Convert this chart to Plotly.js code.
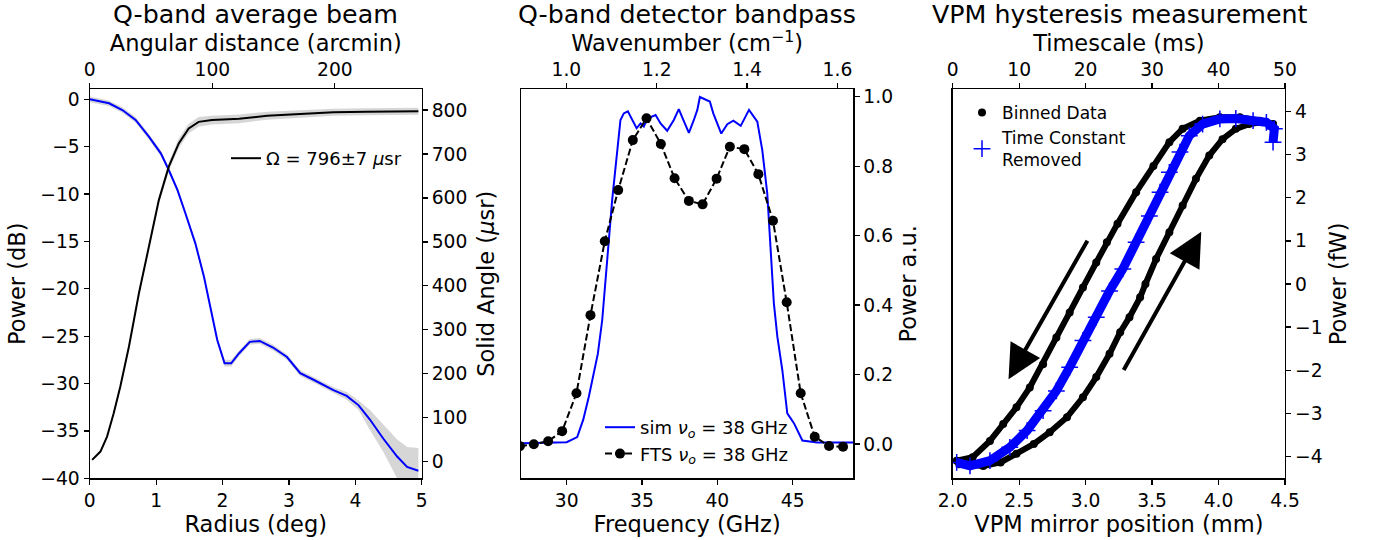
<!DOCTYPE html>
<html>
<head>
<meta charset="utf-8">
<script src="https://cdn.plot.ly/plotly-3.0.1.min.js"></script>
<style>html,body{margin:0;padding:0;background:#fff;}#chart{width:1377px;height:540px;}</style>
</head>
<body>
<div id="chart"></div>
<script>
// ---------- Panel 1: Q-band average beam ----------
const beamRadiusDeg = [0, 0.29, 0.49, 0.69, 0.89, 1.07, 1.19, 1.32, 1.44, 1.59, 1.72, 1.82, 1.92, 2.03, 2.13, 2.25, 2.41, 2.56, 2.76, 2.97, 3.17, 3.37, 3.67, 3.87, 4.05, 4.22, 4.42, 4.63, 4.78, 4.95];
const beamPowerDb = [0, -0.42, -1.13, -2.18, -3.95, -5.70, -7.46, -9.57, -12.03, -15.2, -18.72, -21.89, -25.4, -27.86, -27.86, -26.8, -25.6, -25.5, -26.2, -27.2, -28.9, -29.6, -30.7, -31.3, -32.3, -33.8, -35.8, -37.7, -38.8, -39.2];
const beamBandUpper = [0.3, -0.12, -0.83, -1.88, -3.65, -5.4, -7.16, -9.27, -11.73, -14.9, -18.42, -21.59, -25.1, -27.5, -27.5, -26.5, -25.3, -25.2, -25.9, -26.9, -28.6, -29.3, -30.4, -30.9, -31.8, -32.8, -34.3, -35.9, -36.7, -36.8];
const beamBandLower = [-0.3, -0.72, -1.43, -2.48, -4.25, -6.0, -7.76, -9.87, -12.33, -15.5, -19.02, -22.19, -25.7, -28.2, -28.2, -27.1, -25.9, -25.8, -26.5, -27.5, -29.2, -29.9, -31.0, -31.7, -32.8, -34.9, -37.2, -39.9, -42, -43];

const solidRadiusDeg = [0.035, 0.16, 0.26, 0.36, 0.46, 0.59, 0.74, 0.89, 1.04, 1.19, 1.34, 1.49, 1.64, 1.84, 2.25, 2.67, 3.17, 3.67, 4.17, 4.95];
const solidAngleUsr = [4, 23, 57, 110, 171, 262, 383, 489, 595, 671, 724, 758, 773, 777, 780, 787, 791, 795, 796, 797];
const solidBandUpper = [5, 25, 60, 114, 176, 268, 390, 497, 604, 681, 735, 769, 784, 787, 790, 796, 800, 803, 804, 805];
const solidBandLower = [3, 21, 54, 106, 166, 256, 376, 481, 586, 661, 713, 747, 762, 767, 770, 778, 782, 787, 788, 789];

// ---------- Panel 2: Q-band detector bandpass ----------
const simFreqGHz = [27.0, 30.0, 30.7, 31.1, 31.47, 31.76, 32.07, 32.36, 32.65, 33.02, 33.57, 33.79, 34.06, 34.35, 34.64, 34.9, 35.12, 35.35, 35.9, 36.23, 36.67, 37.11, 37.44, 37.74, 38.11, 38.44, 38.67, 38.84, 39.1, 39.5, 39.73, 40.26, 40.66, 41.06, 41.55, 42.1, 42.65, 42.98, 43.31, 43.58, 43.75, 43.98, 44.31, 44.64, 45.08, 45.64, 46.63, 49.0];
const simPower = [0.002, 0.005, 0.02, 0.07, 0.136, 0.20, 0.26, 0.357, 0.50, 0.703, 0.933, 0.952, 0.958, 0.933, 0.909, 0.923, 0.914, 0.937, 0.947, 0.923, 0.902, 0.933, 0.964, 0.933, 0.896, 0.933, 0.962, 0.999, 0.994, 0.986, 0.952, 0.894, 0.921, 0.931, 0.916, 0.962, 0.928, 0.846, 0.722, 0.530, 0.405, 0.309, 0.213, 0.088, 0.06, 0.01, 0.004, 0.004];
const ftsFreqGHz = [26.9, 27.82, 28.77, 29.7, 30.65, 31.58, 32.53, 33.42, 34.39, 35.3, 36.25, 37.16, 38.11, 39.02, 39.95, 40.83, 41.79, 42.72, 43.69, 44.6, 45.53, 46.46, 47.41, 48.34];
const ftsPower = [-0.006, -0.001, 0.008, 0.037, 0.146, 0.371, 0.584, 0.731, 0.875, 0.938, 0.864, 0.765, 0.70, 0.690, 0.764, 0.856, 0.849, 0.777, 0.643, 0.408, 0.146, 0.021, -0.006, -0.008];

// ---------- Panel 3: VPM hysteresis ----------
const binnedDownMm = [4.41, 4.31, 4.16, 4.01, 3.86, 3.73, 3.63, 3.51, 3.38, 3.24, 3.16, 3.08, 2.98, 2.88, 2.78, 2.68, 2.58, 2.48, 2.38, 2.28, 2.15, 2.03];
const binnedDownFw = [3.67, 3.79, 3.87, 3.87, 3.79, 3.60, 3.29, 2.74, 2.13, 1.40, 0.97, 0.50, -0.08, -0.66, -1.24, -1.86, -2.40, -2.86, -3.25, -3.64, -4.02, -4.10];
const binnedUpMm = [2.05, 2.23, 2.36, 2.48, 2.61, 2.73, 2.86, 2.98, 3.08, 3.18, 3.26, 3.33, 3.41, 3.45, 3.53, 3.63, 3.73, 3.83, 3.93, 4.03, 4.13, 4.23, 4.33, 4.41];
const binnedUpFw = [-4.18, -4.22, -4.14, -3.94, -3.71, -3.44, -3.09, -2.63, -2.16, -1.62, -1.12, -0.77, -0.31, 0.0, 0.58, 1.20, 1.82, 2.44, 2.98, 3.36, 3.60, 3.71, 3.75, 3.71];
const tcRemovedMm = [2.03, 2.13, 2.28, 2.43, 2.56, 2.68, 2.78, 2.88, 2.98, 3.08, 3.18, 3.28, 3.38, 3.48, 3.56, 3.63, 3.71, 3.78, 3.88, 4.01, 4.13, 4.26, 4.36, 4.42, 4.41];
const tcRemovedFw = [-4.14, -4.22, -4.10, -3.79, -3.40, -2.94, -2.48, -1.93, -1.31, -0.77, -0.16, 0.35, 0.97, 1.58, 2.13, 2.59, 3.06, 3.44, 3.71, 3.83, 3.84, 3.79, 3.75, 3.60, 3.29];
// arrows: [tail mm, tail fW, tip mm, tip fW]
const arrowDown = [3.02, 1.04, 2.42, -2.21];
const arrowUp = [3.28, -2.03, 3.87, 1.21];

const binnedMm = binnedDownMm.concat([null], binnedUpMm);
const binnedFw = binnedDownFw.concat([null], binnedUpFw);

const W = 1377, H = 540;
const px = v => v / W;
const py = v => 1 - v / H;
const FONT = 'DejaVu Sans';
const BLUE = '#0000ff';
const BAND = 'rgba(128,128,128,0.32)';
const yDom = [py(478.3), py(89.3)];

const traces = [
  {x: beamRadiusDeg, y: beamBandLower, xaxis: 'x', yaxis: 'y', mode: 'lines', line: {width: 0}, showlegend: false, hoverinfo: 'skip'},
  {x: beamRadiusDeg, y: beamBandUpper, xaxis: 'x', yaxis: 'y', mode: 'lines', line: {width: 0}, fill: 'tonexty', fillcolor: BAND, showlegend: false, hoverinfo: 'skip'},
  {x: beamRadiusDeg, y: beamPowerDb, xaxis: 'x', yaxis: 'y', mode: 'lines', line: {color: BLUE, width: 2}, showlegend: false},
  {x: solidRadiusDeg, y: solidBandLower, xaxis: 'x', yaxis: 'y2', mode: 'lines', line: {width: 0}, showlegend: false, hoverinfo: 'skip'},
  {x: solidRadiusDeg, y: solidBandUpper, xaxis: 'x', yaxis: 'y2', mode: 'lines', line: {width: 0}, fill: 'tonexty', fillcolor: BAND, showlegend: false, hoverinfo: 'skip'},
  {x: solidRadiusDeg, y: solidAngleUsr, xaxis: 'x', yaxis: 'y2', mode: 'lines', line: {color: '#000', width: 2}, name: 'Ω = 796±7 <i>μ</i>sr', legend: 'legend'},
  // empty traces so that the secondary (top) axes are drawn
  {x: [], y: [], xaxis: 'x2', yaxis: 'y', mode: 'lines', showlegend: false, hoverinfo: 'skip'},

  {x: simFreqGHz, y: simPower, xaxis: 'x3', yaxis: 'y3', mode: 'lines', line: {color: BLUE, width: 2}, name: 'sim <i>ν<sub>o</sub></i> = 38 GHz', legend: 'legend2'},
  {x: ftsFreqGHz, y: ftsPower, xaxis: 'x3', yaxis: 'y3', mode: 'lines+markers', line: {color: '#000', width: 2, dash: '7px,3px'}, marker: {color: '#000', size: 10}, name: 'FTS <i>ν<sub>o</sub></i> = 38 GHz', legend: 'legend2'},
  {x: [], y: [], xaxis: 'x4', yaxis: 'y3', mode: 'lines', showlegend: false, hoverinfo: 'skip'},

  {x: binnedMm, y: binnedFw, xaxis: 'x5', yaxis: 'y5', mode: 'lines', connectgaps: false, line: {color: '#000', width: 6}, showlegend: false, hoverinfo: 'skip'},
  {x: binnedMm, y: binnedFw, xaxis: 'x5', yaxis: 'y5', mode: 'markers', marker: {color: '#000', size: 8}, name: 'Binned Data', legend: 'legend3'},
  {x: tcRemovedMm, y: tcRemovedFw, xaxis: 'x5', yaxis: 'y5', mode: 'lines', line: {color: BLUE, width: 9}, showlegend: false, hoverinfo: 'skip'},
  {x: tcRemovedMm, y: tcRemovedFw, xaxis: 'x5', yaxis: 'y5', mode: 'markers', marker: {symbol: 'cross-thin', size: 12, color: BLUE, line: {color: BLUE, width: 1.5}}, name: 'Time Constant<br>Removed', legend: 'legend3'},
  {x: [], y: [], xaxis: 'x6', yaxis: 'y5', mode: 'lines', showlegend: false, hoverinfo: 'skip'}
];

const tickFont = {family: FONT, size: 18.7, color: '#000'};
const titleFont = {family: FONT, size: 22.5, color: '#000'};
function ax(extra) {
  return Object.assign({
    showgrid: false, zeroline: false, showline: true, linecolor: '#000', linewidth: 1.3,
    ticks: 'outside', ticklen: 5, tickwidth: 1.3, tickcolor: '#000', tickfont: tickFont,
    automargin: false, fixedrange: true
  }, extra);
}
function ttl(text, standoff) { return {text: text, font: titleFont, standoff: standoff}; }

const layout = {
  width: W, height: H,
  margin: {l: 0, r: 0, t: 0, b: 0},
  paper_bgcolor: '#fff', plot_bgcolor: '#fff',
  font: {family: FONT, color: '#000'},
  xaxis: ax({domain: [px(89.8), px(421.7)], anchor: 'y', range: [0, 5], dtick: 1, title: ttl('Radius (deg)', 6)}),
  xaxis2: ax({overlaying: 'x', side: 'top', anchor: 'y', range: [0, 270.9], dtick: 100, title: ttl('Angular distance (arcmin)', 0)}),
  yaxis: ax({domain: yDom, anchor: 'x', range: [-40, 1.055], dtick: 5, title: ttl('Power (dB)', 8)}),
  yaxis2: ax({overlaying: 'y', side: 'right', anchor: 'x', range: [-37.8, 847.1], dtick: 100, title: ttl('Solid Angle (<i>μ</i>sr)', 11)}),

  xaxis3: ax({domain: [px(521), px(853.3)], anchor: 'y3', range: [26.97, 49.02], tickvals: [30, 35, 40, 45], title: ttl('Frequency (GHz)', 6)}),
  xaxis4: ax({overlaying: 'x3', side: 'top', anchor: 'y3', range: [0.8996, 1.635], tickvals: [1.0, 1.2, 1.4, 1.6], ticktext: ['1.0', '1.2', '1.4', '1.6'], title: ttl('Wavenumber (cm<sup>−1</sup>)', 0)}),
  yaxis3: ax({domain: yDom, anchor: 'x3', side: 'right', mirror: true, range: [-0.0988, 1.0213], tickvals: [0, 0.2, 0.4, 0.6, 0.8, 1.0], ticktext: ['0.0', '0.2', '0.4', '0.6', '0.8', '1.0'], title: ttl('Power a.u.', 8)}),

  xaxis5: ax({domain: [px(952.7), px(1285)], anchor: 'y5', range: [2, 4.5], tickvals: [2, 2.5, 3, 3.5, 4, 4.5], ticktext: ['2.0', '2.5', '3.0', '3.5', '4.0', '4.5'], title: ttl('VPM mirror position (mm)', 6)}),
  xaxis6: ax({overlaying: 'x5', side: 'top', anchor: 'y5', range: [0, 50], dtick: 10, title: ttl('Timescale (ms)', 0)}),
  yaxis5: ax({domain: yDom, anchor: 'x5', side: 'right', mirror: true, range: [-4.508, 4.517], dtick: 1, title: ttl('Power (fW)', 8)}),

  legend: {x: px(226), y: py(140), xanchor: 'left', yanchor: 'top', bgcolor: 'rgba(0,0,0,0)', font: {family: FONT, size: 18, color: '#000'}},
  legend2: {x: px(600), y: py(409), xanchor: 'left', yanchor: 'top', bgcolor: 'rgba(0,0,0,0)', font: {family: FONT, size: 18, color: '#000'}, tracegroupgap: 0},
  legend3: {x: px(962), y: py(95), xanchor: 'left', yanchor: 'top', bgcolor: 'rgba(0,0,0,0)', font: {family: FONT, size: 17, color: '#000'}},

  annotations: [
    {text: 'Q-band average beam', xref: 'paper', yref: 'paper', x: px(255.7), y: py(14.5), xanchor: 'center', yanchor: 'middle', showarrow: false, font: {family: FONT, size: 25.3, color: '#000'}},
    {text: 'Q-band detector bandpass', xref: 'paper', yref: 'paper', x: px(687), y: py(14.5), xanchor: 'center', yanchor: 'middle', showarrow: false, font: {family: FONT, size: 25.3, color: '#000'}},
    {text: 'VPM hysteresis measurement', xref: 'paper', yref: 'paper', x: px(1119), y: py(14.5), xanchor: 'center', yanchor: 'middle', showarrow: false, font: {family: FONT, size: 25.3, color: '#000'}},
    {text: '', xref: 'x5', yref: 'y5', axref: 'x5', ayref: 'y5', x: arrowDown[2], y: arrowDown[3], ax: arrowDown[0], ay: arrowDown[1], showarrow: true, arrowhead: 2, arrowsize: 1.7, arrowwidth: 4, arrowcolor: '#000'},
    {text: '', xref: 'x5', yref: 'y5', axref: 'x5', ayref: 'y5', x: arrowUp[2], y: arrowUp[3], ax: arrowUp[0], ay: arrowUp[1], showarrow: true, arrowhead: 2, arrowsize: 1.7, arrowwidth: 4, arrowcolor: '#000'}
  ]
};

Plotly.newPlot('chart', traces, layout, {staticPlot: true, displayModeBar: false});
</script>
</body>
</html>
